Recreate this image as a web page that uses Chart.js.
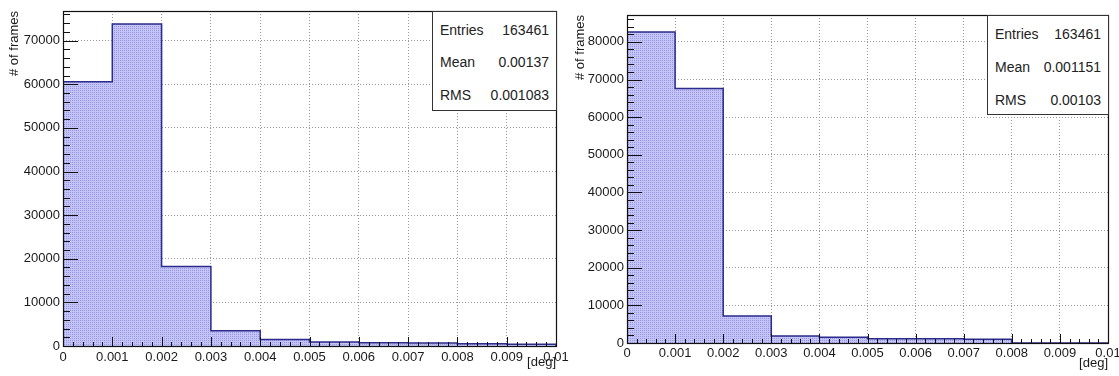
<!DOCTYPE html>
<html>
<head>
<meta charset="utf-8">
<script src="https://cdn.jsdelivr.net/npm/chart.js@4"></script>
<style>
  body { margin: 0; background: #fff; width: 1119px; height: 376px; position: relative; overflow: hidden; }
  canvas { position: absolute; top: 0; }
  .stats { position: absolute; background: #fff; border: 1px solid #333; box-sizing: border-box;
           font-family: 'Liberation Sans', Arial, sans-serif; font-size: 14px; color: #222; }
  .stats div { position: absolute; left: 7px; right: 7px; height: 18px; line-height: 18px; }
  .stats span { float: right; }
</style>
</head>
<body>
<canvas id="left" width="580" height="376" style="left:0"></canvas>
<canvas id="right" width="559" height="376" style="left:560px"></canvas>
<div class="stats" style="left:432px;top:11px;width:125px;height:100px">
  <div style="top:9px">Entries<span>163461</span></div>
  <div style="top:41px">Mean<span>0.00137</span></div>
  <div style="top:74px">RMS<span>0.001083</span></div>
</div>
<div class="stats" style="left:987px;top:15px;width:122px;height:100px">
  <div style="top:9px">Entries<span>163461</span></div>
  <div style="top:42px">Mean<span>0.001151</span></div>
  <div style="top:75px">RMS<span>0.00103</span></div>
</div>
<script>
// bin lower edges [deg], width 0.001
var binEdges = [0, 0.001, 0.002, 0.003, 0.004, 0.005, 0.006, 0.007, 0.008, 0.009];
var xEnd = 0.01;
var leftCounts = [60600, 73800, 18200, 3500, 1480, 900, 720, 680, 500, 400];
var rightCounts = [82600, 67600, 7200, 1850, 1500, 1150, 1100, 1000, 0, 0];
var leftMax = 76800, rightMax = 87150;

var xTicks = [0, 0.001, 0.002, 0.003, 0.004, 0.005, 0.006, 0.007, 0.008, 0.009, 0.01];
var leftYTicks = [0, 10000, 20000, 30000, 40000, 50000, 60000, 70000];
var rightYTicks = [0, 10000, 20000, 30000, 40000, 50000, 60000, 70000, 80000];

var font = "'Liberation Sans', Arial, sans-serif";

// outline points for a step histogram
function histPoints(counts) {
    var pts = [{x: 0, y: 0}];
    for (var i = 0; i < binEdges.length; i++) pts.push({x: binEdges[i], y: counts[i]});
    pts.push({x: xEnd, y: counts[counts.length - 1]});
    pts.push({x: xEnd, y: 0});
    return pts;
}

function makePattern() {
    var c = document.createElement('canvas');
    c.width = 2; c.height = 2;
    var g = c.getContext('2d');
    g.fillStyle = '#c4c4f9';
    g.fillRect(0, 0, 2, 2);
    g.fillStyle = '#9898e2';
    g.fillRect(0, 0, 1, 1);
    return g.createPattern(c, 'repeat');
}

// ROOT-like frame with ticks drawn inside the plot
var frame = {
    id: 'frame',
    afterDatasetsDraw: function (chart) {
        var ctx = chart.ctx, a = chart.chartArea, x = chart.scales.x, y = chart.scales.y;
        ctx.save();
        ctx.strokeStyle = '#111';
        ctx.lineWidth = 1;
        ctx.beginPath();
        for (var i = 0; i <= 50; i++) {
            var px = Math.round(x.getPixelForValue(i * 0.0002)) + 0.5;
            var len = i % 5 === 0 ? 9 : 4;
            ctx.moveTo(px, a.bottom); ctx.lineTo(px, a.bottom - len);
        }
        for (var v = 0; v <= y.max; v += 2000) {
            var py = Math.round(y.getPixelForValue(v)) + 0.5;
            var l = v % 10000 === 0 ? 15 : 7;
            ctx.moveTo(a.left, py); ctx.lineTo(a.left + l, py);
        }
        ctx.stroke();
        ctx.lineWidth = 1.2;
        ctx.strokeRect(Math.round(a.left) + 0.5, Math.round(a.top) + 0.5,
                       Math.round(a.right - a.left), Math.round(a.bottom - a.top));
        ctx.restore();
    }
};

function setTicks(list) {
    return function (s) {
        s.ticks = list.map(function (v) { return {value: v}; });
    };
}

function makeChart(id, counts, yMax, yTicks, opt) {
    var ctx = document.getElementById(id).getContext('2d');
    return new Chart(ctx, {
        type: 'line',
        data: {
            datasets: [{
                data: histPoints(counts),
                stepped: 'before',
                fill: 'origin',
                backgroundColor: makePattern(),
                borderColor: '#2b2b8c',
                borderWidth: 1.5,
                pointRadius: 0,
                tension: 0
            }]
        },
        options: {
            responsive: false,
            animation: false,
            layout: {padding: {left: 0, right: opt.padRight, top: opt.top, bottom: 0}},
            plugins: {legend: {display: false}, tooltip: {enabled: false}},
            scales: {
                x: {
                    type: 'linear', min: 0, max: xEnd,
                    afterFit: function (s) {
                        s.height = opt.xHeight;
                        s.paddingLeft = 0; s.paddingRight = 0;
                    },
                    afterBuildTicks: setTicks(xTicks),
                    grid: {color: '#9a9a9a', drawTicks: false, lineWidth: 1},
                    border: {display: false, dash: [1, 2]},
                    ticks: {
                        autoSkip: false, padding: opt.xPad, color: '#1a1a1a', maxRotation: 0,
                        font: {family: font, size: 13},
                        callback: function (v) { return String(+v.toFixed(4)); }
                    },
                    title: {display: true, text: '[deg]', align: 'end', color: '#1a1a1a',
                            font: {family: font, size: 13}, padding: {top: 0, bottom: opt.titlePad}}
                },
                y: {
                    type: 'linear', min: 0, max: yMax,
                    afterFit: function (s) {
                        s.width = opt.yWidth;
                        s.paddingTop = 0; s.paddingBottom = 0;
                    },
                    afterBuildTicks: setTicks(yTicks),
                    grid: {color: '#9a9a9a', drawTicks: false, lineWidth: 1},
                    border: {display: false, dash: [1, 2]},
                    ticks: {autoSkip: false, padding: 3, color: '#1a1a1a',
                            font: {family: font, size: 13},
                            callback: function (v) { return String(v); }},
                    title: {display: true, text: '# of frames', align: 'end', color: '#1a1a1a',
                            font: {family: font, size: 13}, padding: {top: opt.yTitlePad, bottom: 0}}
                }
            }
        },
        plugins: [frame]
    });
}

makeChart('left', leftCounts, leftMax, leftYTicks,
    {padRight: 24, top: 11, xHeight: 30, yWidth: 63, xPad: 4, titlePad: 6, yTitlePad: 7});
makeChart('right', rightCounts, rightMax, rightYTicks,
    {padRight: 11, top: 15, xHeight: 33, yWidth: 67, xPad: 3, titlePad: 5, yTitlePad: 13});
</script>
</body>
</html>
